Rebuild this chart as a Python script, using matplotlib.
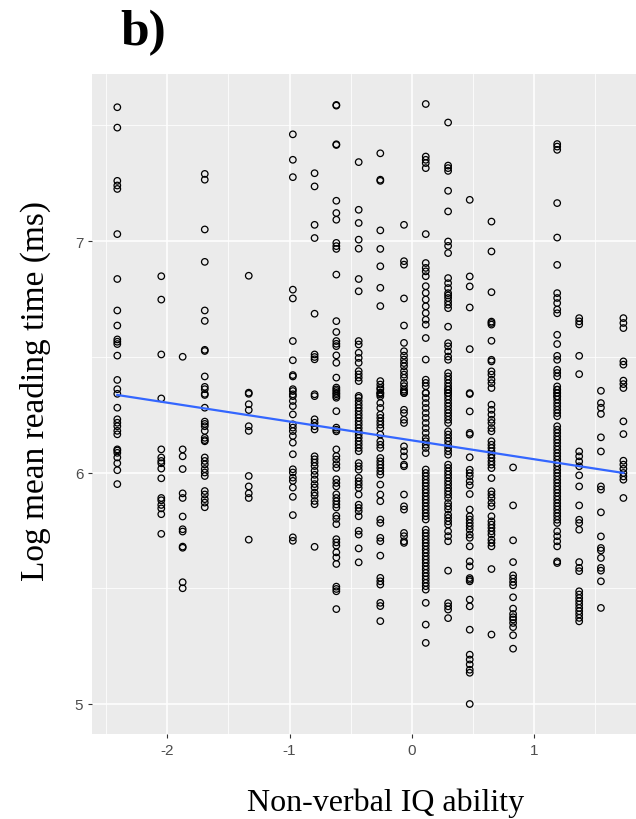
import numpy as np
import matplotlib
matplotlib.use("Agg")
import matplotlib.pyplot as plt
from matplotlib.ticker import MultipleLocator

plt.rcParams['axes.unicode_minus'] = False

# standardised non-verbal IQ levels (one column of points each)
iq_levels = [-2.41, -2.05, -1.875, -1.694, -1.334, -0.973, -0.795, -0.617, -0.434,
             -0.257, -0.063, 0.115, 0.298, 0.475, 0.653, 0.830, 1.191, 1.371, 1.549, 1.733]

# log mean reading time for every participant, per IQ level
rt_m241 = [7.578, 7.49, 7.26, 7.24, 7.225, 7.03, 6.836, 6.70, 6.635, 6.575, 6.565, 6.555,
           6.505, 6.40, 6.34, 6.36, 6.28, 6.23, 6.215, 6.20, 6.18, 6.165, 6.10, 6.095, 6.085,
           6.065, 6.04, 6.01, 5.95]
rt_m205 = [6.848, 6.747, 6.51, 6.32, 6.10, 6.065, 6.05, 6.04, 6.017, 5.975, 5.89, 5.88,
           5.86, 5.845, 5.82, 5.735]
rt_m188 = [6.50, 6.10, 6.07, 6.015, 5.91, 5.89, 5.81, 5.755, 5.745, 5.68, 5.675, 5.526, 5.50]
rt_m169 = [7.29, 7.265, 7.05, 6.91, 6.70, 6.655, 6.53, 6.525, 6.415, 6.37, 6.34, 6.36, 6.335,
           6.28, 6.22, 6.21, 6.2, 6.18, 6.15, 6.14, 6.135, 6.065, 6.05, 6.035, 6.015, 6.0,
           5.985, 5.92, 5.905, 5.885, 5.87, 5.85]
rt_m133 = [6.85, 6.345, 6.34, 6.295, 6.27, 6.20, 6.18, 5.985, 5.94, 5.91, 5.89, 5.71]
rt_m097 = [7.461, 7.351, 7.276, 6.79, 6.752, 6.568, 6.485, 6.421, 6.415, 6.36, 6.338, 6.352,
           6.33, 6.309, 6.287, 6.251, 6.208, 6.194, 6.179, 6.158, 6.129, 6.079, 6.014, 6.0,
           5.978, 5.964, 5.935, 5.895, 5.816, 5.72, 5.705]
rt_m080 = [7.293, 7.236, 7.07, 7.013, 6.686, 6.51, 6.499, 6.489, 6.338, 6.33, 6.23, 6.215,
           6.2, 6.186, 6.07, 6.057, 6.043, 6.028, 6.007, 5.99, 5.97, 5.95, 5.935, 5.913, 5.9,
           5.877, 5.863, 5.679]
rt_m062 = [7.588, 7.585, 7.418, 7.415, 7.174, 7.121, 7.092, 6.992, 6.978, 6.966, 6.855, 6.654,
           6.607, 6.568, 6.556, 6.546, 6.506, 6.474, 6.41, 6.367, 6.352, 6.338, 6.323, 6.359,
           6.344, 6.33, 6.265, 6.194, 6.185, 6.178, 6.1, 6.071, 6.056, 6.036, 6.02, 5.971,
           5.955, 5.94, 5.906, 5.89, 5.876, 5.862, 5.849, 5.813, 5.8, 5.777, 5.712, 5.698,
           5.684, 5.655, 5.633, 5.605, 5.507, 5.497, 5.487, 5.41]
rt_m043 = [7.341, 7.135, 7.078, 7.006, 6.967, 6.836, 6.783, 6.568, 6.553, 6.517, 6.495, 6.474,
           6.438, 6.424, 6.41, 6.395, 6.331, 6.323, 6.308, 6.293, 6.279, 6.265, 6.25, 6.236,
           6.221, 6.207, 6.192, 6.178, 6.164, 6.15, 6.135, 6.121, 6.106, 6.092, 6.041, 6.027,
           6.012, 5.977, 5.962, 5.948, 5.933, 5.905, 5.861, 5.847, 5.833, 5.811, 5.748, 5.732,
           5.672, 5.612]
rt_m026 = [7.379, 7.265, 7.26, 7.046, 6.966, 6.891, 6.798, 6.719, 6.395, 6.38, 6.366, 6.345,
           6.337, 6.359, 6.343, 6.329, 6.3, 6.279, 6.25, 6.236, 6.221, 6.207, 6.192, 6.164,
           6.135, 6.12, 6.106, 6.063, 6.048, 6.034, 6.02, 6.005, 5.991, 5.948, 5.905, 5.876,
           5.797, 5.782, 5.718, 5.703, 5.641, 5.545, 5.53, 5.516, 5.437, 5.423, 5.358]
rt_m006 = [7.07, 6.913, 6.898, 6.752, 6.635, 6.56, 6.524, 6.505, 6.488, 6.473, 6.459, 6.438,
           6.423, 6.409, 6.387, 6.373, 6.358, 6.344, 6.351, 6.343, 6.271, 6.257, 6.228, 6.214,
           6.113, 6.092, 6.07, 6.034, 6.027, 5.905, 5.854, 5.84, 5.739, 5.725, 5.703, 5.696]
rt_p012 = [7.592, 7.365, 7.351, 7.337, 7.315, 7.03, 6.905, 6.884, 6.869, 6.848, 6.805, 6.776,
           6.747, 6.718, 6.689, 6.66, 6.639, 6.581, 6.488, 6.401, 6.387, 6.373, 6.344, 6.343,
           6.322, 6.3, 6.279, 6.257, 6.236, 6.214, 6.192, 6.171, 6.149, 6.135, 6.12, 6.106,
           6.084, 6.013, 5.998, 5.984, 5.969, 5.955, 5.941, 5.926, 5.912, 5.897, 5.883, 5.869,
           5.854, 5.84, 5.825, 5.811, 5.797, 5.753, 5.739, 5.725, 5.71, 5.696, 5.682, 5.667,
           5.653, 5.638, 5.624, 5.61, 5.595, 5.581, 5.566, 5.552, 5.538, 5.523, 5.509, 5.494,
           5.437, 5.343, 5.264]
rt_p030 = [7.512, 7.326, 7.315, 7.303, 7.217, 7.128, 6.998, 6.979, 6.948, 6.84, 6.818, 6.797,
           6.775, 6.765, 6.754, 6.739, 6.725, 6.71, 6.63, 6.559, 6.545, 6.523, 6.501, 6.487,
           6.43, 6.415, 6.401, 6.386, 6.372, 6.358, 6.343, 6.358, 6.343, 6.329, 6.315, 6.3,
           6.286, 6.271, 6.257, 6.243, 6.228, 6.214, 6.178, 6.164, 6.149, 6.135, 6.12, 6.106,
           6.092, 6.077, 6.034, 6.02, 6.005, 5.991, 5.977, 5.962, 5.948, 5.933, 5.919, 5.905,
           5.89, 5.868, 5.854, 5.84, 5.818, 5.804, 5.789, 5.775, 5.746, 5.725, 5.703, 5.576,
           5.436, 5.422, 5.408, 5.371]
rt_p048 = [7.178, 6.847, 6.804, 6.713, 6.533, 6.343, 6.339, 6.264, 6.171, 6.164, 6.066, 6.012,
           5.998, 5.984, 5.962, 5.945, 5.907, 5.84, 5.811, 5.797, 5.782, 5.768, 5.753, 5.732,
           5.718, 5.681, 5.616, 5.595, 5.544, 5.537, 5.53, 5.451, 5.422, 5.321, 5.213, 5.192,
           5.171, 5.148, 5.135, 5.0]
rt_p065 = [7.084, 6.955, 6.779, 6.652, 6.646, 6.639, 6.569, 6.487, 6.48, 6.437, 6.423, 6.401,
           6.386, 6.365, 6.293, 6.271, 6.25, 6.228, 6.214, 6.192, 6.178, 6.135, 6.12, 6.106,
           6.092, 6.077, 6.063, 6.048, 6.034, 6.019, 5.976, 5.919, 5.905, 5.89, 5.869, 5.854,
           5.811, 5.789, 5.775, 5.761, 5.746, 5.732, 5.71, 5.696, 5.681, 5.583, 5.3]
rt_p083 = [6.022, 5.858, 5.707, 5.613, 5.556, 5.542, 5.527, 5.513, 5.461, 5.412, 5.389, 5.375,
           5.365, 5.35, 5.332, 5.297, 5.239]
rt_p119 = [7.419, 7.408, 7.394, 7.164, 7.015, 6.897, 6.775, 6.754, 6.732, 6.704, 6.688, 6.595,
           6.555, 6.504, 6.487, 6.444, 6.43, 6.415, 6.372, 6.358, 6.344, 6.329, 6.358, 6.343,
           6.329, 6.315, 6.3, 6.286, 6.271, 6.257, 6.243, 6.2, 6.185, 6.171, 6.156, 6.142,
           6.128, 6.113, 6.099, 6.084, 6.07, 6.056, 6.041, 6.027, 6.012, 5.998, 5.984, 5.969,
           5.955, 5.94, 5.926, 5.912, 5.897, 5.883, 5.868, 5.854, 5.84, 5.825, 5.811, 5.796,
           5.782, 5.746, 5.725, 5.703, 5.681, 5.616, 5.609]
rt_p137 = [6.667, 6.653, 6.64, 6.504, 6.425, 6.091, 6.07, 6.048, 6.027, 5.988, 5.94, 5.858,
           5.796, 5.782, 5.753, 5.613, 5.588, 5.574, 5.487, 5.473, 5.458, 5.444, 5.43, 5.415,
           5.401, 5.387, 5.372, 5.357]
rt_p155 = [6.353, 6.3, 6.28, 6.253, 6.152, 6.091, 5.94, 5.926, 5.828, 5.724, 5.674, 5.663,
           5.631, 5.588, 5.576, 5.53, 5.415]
rt_p173 = [6.667, 6.646, 6.624, 6.48, 6.466, 6.397, 6.382, 6.365, 6.221, 6.166, 6.051, 6.034,
           6.016, 5.998, 5.983, 5.969, 5.89]

rt_columns = [rt_m241, rt_m205, rt_m188, rt_m169, rt_m133, rt_m097, rt_m080, rt_m062,
              rt_m043, rt_m026, rt_m006, rt_p012, rt_p030, rt_p048, rt_p065, rt_p083,
              rt_p119, rt_p137, rt_p155, rt_p173]

# fitted regression line as drawn in the figure (ends at the data range)
fit_x = [-2.41, 1.733]
fit_y = [6.335, 5.998]

x = np.concatenate([[lv] * len(col) for lv, col in zip(iq_levels, rt_columns)])
y = np.concatenate(rt_columns)

fig = plt.figure(figsize=(6.36, 8.2), dpi=100)
# panel is cropped on the right in the original, so it runs past the figure edge
ax = fig.add_axes([92 / 636, 1 - 735 / 820, 556.7 / 636, 660 / 820])
ax.set_facecolor('#EBEBEB')
for s in ax.spines.values():
    s.set_visible(False)

ax.scatter(x, y, s=22, facecolors='none', edgecolors='black', linewidths=0.9, zorder=3)
ax.plot(fit_x, fit_y, color='#3366FF', lw=1.6, zorder=4)

ax.margins(0.05)
ax.xaxis.set_major_locator(MultipleLocator(1))
ax.xaxis.set_minor_locator(MultipleLocator(0.5))
ax.yaxis.set_major_locator(MultipleLocator(1))
ax.yaxis.set_minor_locator(MultipleLocator(0.5))
ax.grid(which='major', color='white', lw=1.1)
ax.grid(which='minor', color='white', lw=0.55)
ax.set_axisbelow(True)
ax.tick_params(which='major', length=2.75, width=0.8, color='#333333', pad=3.5,
               labelsize=11, labelcolor='#4D4D4D')
ax.tick_params(which='minor', length=0)
for lab in ax.get_xticklabels() + ax.get_yticklabels():
    lab.set_family('Liberation Sans')

fig.text(120 / 636, 1 - 10 / 820, 'b)', fontsize=37, fontweight='bold',
         family='Liberation Serif', ha='left', va='top')
fig.text(386 / 636, 1 - 803 / 820, 'Non-verbal IQ ability', fontsize=23,
         family='Liberation Serif', ha='center', va='center')
fig.text(35 / 636, 1 - 391 / 820, 'Log mean reading time (ms)', fontsize=24,
         family='Liberation Serif', ha='center', va='center', rotation=90)

fig.savefig('out.png', dpi=100)
